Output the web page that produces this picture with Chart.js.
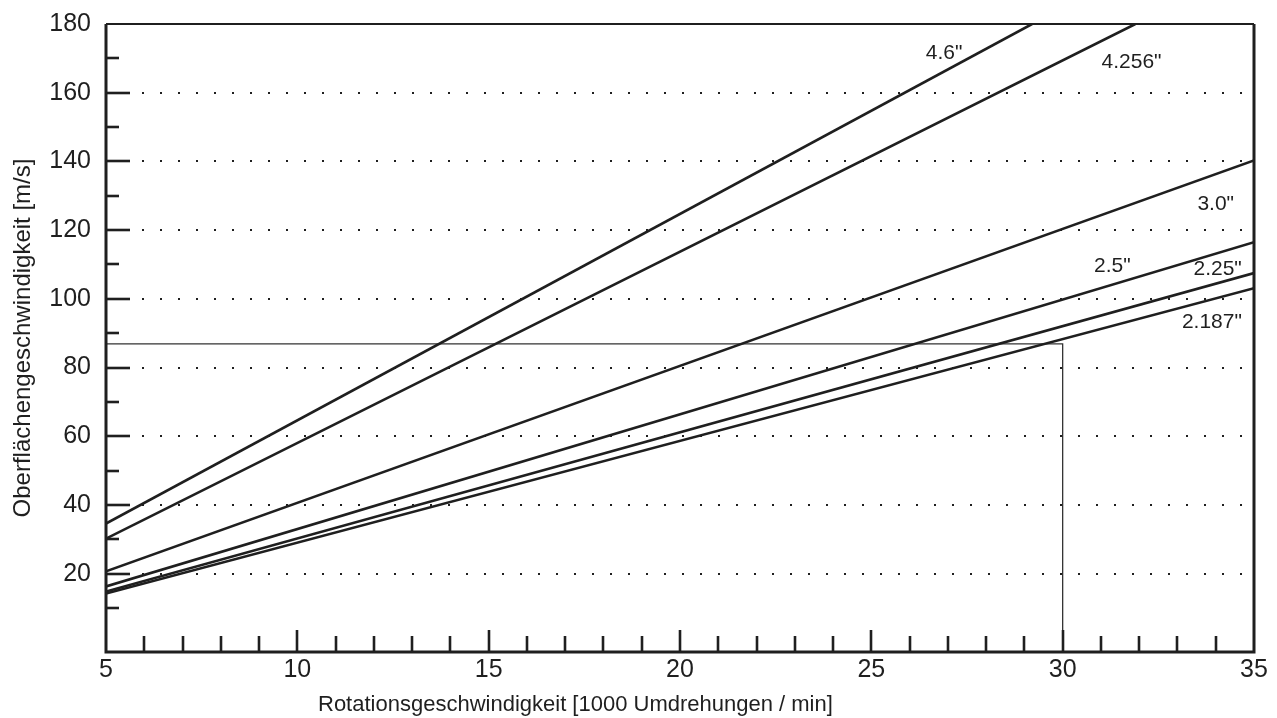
<!DOCTYPE html>
<html>
<head>
<meta charset="utf-8">
<script src="https://cdn.jsdelivr.net/npm/chart.js@4/dist/chart.umd.min.js"></script>
<style>
  html, body { margin: 0; padding: 0; background: #fff; }
  #wrap { width: 1277px; height: 718px; }
</style>
</head>
<body>
<div id="wrap"><canvas id="speed-chart"></canvas></div>
<script>
// values
const diameters = ['4.6"', '4.256"', '3.0"', '2.5"', '2.25"', '2.187"'];
const rpmStart = [5, 5, 5, 5, 5, 5];
const speedStart = [34.6, 30.2, 20.7, 16.3, 14.8, 14.2];
const rpmEnd = [29.2, 31.9, 35, 35, 35, 35];
const speedEnd = [180, 180, 140.3, 116.5, 107.5, 103.1];

// example reading: 30 000 rpm -> ~87 m/s
const refRpm = [5, 30, 30];
const refSpeed = [86.9, 86.9, -2.8];

// where the diameter labels sit (data units)
const labelRpm = [26.9, 31.8, 34.0, 31.3, 34.05, 33.9];
const labelSpeed = [171.6, 169.0, 127.6, 109.5, 108.7, 93.3];

const xTicks = [];
for (let v = 5; v <= 35; v++) xTicks.push(v);
const yTicks = [];
for (let v = 10; v <= 180; v += 10) yTicks.push(v);

const xTitle = "Rotationsgeschwindigkeit [1000 Umdrehungen / min]";
const yTitle = "Oberflächengeschwindigkeit [m/s]";

const INK = "#1f1f1f";
const FONT = "'Liberation Sans', Arial, Helvetica, sans-serif";

const datasets = diameters.map((d, i) => ({
  label: d,
  data: [
    { x: rpmStart[i], y: speedStart[i] },
    { x: rpmEnd[i], y: speedEnd[i] }
  ],
  borderColor: INK,
  borderWidth: 2.6,
  pointRadius: 0,
  fill: false
}));

datasets.push({
  label: "ref",
  data: refRpm.map((x, i) => ({ x, y: refSpeed[i] })),
  borderColor: "#333",
  borderWidth: 1.3,
  pointRadius: 0,
  fill: false
});

// inward ticks, frame, curve labels, x title
const framePlugin = {
  id: "frame",
  afterDraw(chart) {
    const { ctx, chartArea: a, scales: { x, y } } = chart;
    ctx.save();
    ctx.strokeStyle = INK;
    ctx.lineCap = "butt";

    ctx.lineWidth = 2.6;
    for (const v of xTicks) {
      if (v === 5 || v === 35) continue;
      const px = Math.round(x.getPixelForValue(v));
      const len = v % 5 === 0 ? 22 : 16;
      ctx.beginPath();
      ctx.moveTo(px, a.bottom);
      ctx.lineTo(px, a.bottom - len);
      ctx.stroke();
    }
    for (const v of yTicks) {
      if (v === 180) continue;
      const py = Math.round(y.getPixelForValue(v));
      const len = v % 20 === 0 ? 24 : 13;
      ctx.beginPath();
      ctx.moveTo(a.left, py);
      ctx.lineTo(a.left + len, py);
      ctx.stroke();
    }

    ctx.lineWidth = 3;
    ctx.beginPath();
    ctx.moveTo(a.left, a.top);
    ctx.lineTo(a.left, a.bottom);
    ctx.lineTo(a.right, a.bottom);
    ctx.lineTo(a.right, a.top);
    ctx.stroke();
    ctx.lineWidth = 2.2;
    ctx.beginPath();
    ctx.moveTo(a.left, a.top);
    ctx.lineTo(a.right, a.top);
    ctx.stroke();

    ctx.fillStyle = INK;
    ctx.font = "21px " + FONT;
    ctx.textAlign = "center";
    ctx.textBaseline = "middle";
    diameters.forEach((d, i) => {
      ctx.fillText(d, x.getPixelForValue(labelRpm[i]), y.getPixelForValue(labelSpeed[i]));
    });

    // axis title sits left of centre in the original
    ctx.font = "22px " + FONT;
    ctx.textAlign = "left";
    ctx.textBaseline = "alphabetic";
    ctx.fillText(xTitle, 318, 711);
    ctx.restore();
  }
};

new Chart(document.getElementById("speed-chart"), {
  type: "line",
  data: { datasets },
  plugins: [framePlugin],
  options: {
    animation: false,
    responsive: true,
    maintainAspectRatio: false,
    layout: { padding: { top: 24, right: 23, left: 0, bottom: 0 } },
    plugins: {
      legend: { display: false },
      tooltip: { enabled: false }
    },
    scales: {
      x: {
        type: "linear",
        min: 5,
        max: 35,
        afterBuildTicks: s => { s.ticks = xTicks.map(v => ({ value: v })); },
        afterFit: s => { s.height = 66; s.paddingLeft = 0; s.paddingRight = 0; },
        grid: { display: false, drawTicks: false },
        border: { display: false },
        ticks: {
          autoSkip: false,
          maxRotation: 0,
          padding: 3,
          color: INK,
          font: { family: FONT, size: 25 },
          callback: v => (v % 5 === 0 ? v : "")
        }
      },
      y: {
        type: "linear",
        min: -2.8,
        max: 180,
        afterBuildTicks: s => { s.ticks = yTicks.map(v => ({ value: v })); },
        afterFit: s => { s.width = 106; s.paddingTop = 0; s.paddingBottom = 0; },
        grid: {
          drawTicks: false,
          lineWidth: 2,
          color: c => (c.tick && c.tick.value % 20 === 0 && c.tick.value < 180 ? INK : "rgba(0,0,0,0)")
        },
        border: { display: false, dash: [2, 16] },
        ticks: {
          autoSkip: false,
          padding: 15,
          color: INK,
          font: { family: FONT, size: 25 },
          callback: v => (v % 20 === 0 ? v : "")
        },
        title: {
          display: true,
          text: yTitle,
          color: INK,
          font: { family: FONT, size: 24 },
          padding: { top: 9, bottom: 0 }
        }
      }
    }
  }
});
</script>
</body>
</html>
